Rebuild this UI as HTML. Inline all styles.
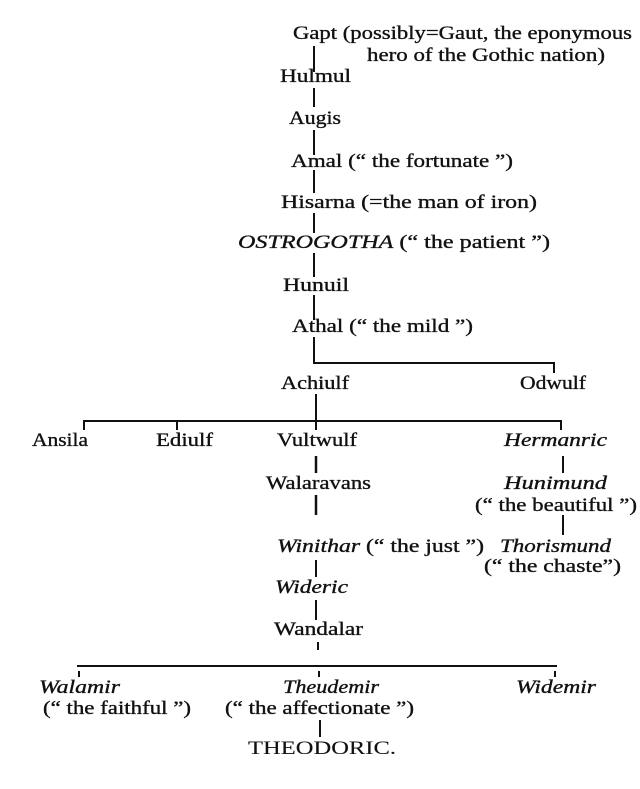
<!DOCTYPE html>
<html><head><meta charset="utf-8"><style>
html,body{margin:0;padding:0;background:#fff;}
svg{display:block}
text{font-family:"Liberation Serif",serif;font-size:19px;fill:#111;stroke:#111;stroke-width:0.35;}
.i{font-style:italic}
</style></head><body>
<svg width="640" height="789" viewBox="0 0 640 789" xmlns="http://www.w3.org/2000/svg">
<g stroke="#111" stroke-width="2" fill="none">
<line x1="314" y1="46" x2="314" y2="72"/>
<line x1="314" y1="88" x2="314" y2="107"/>
<line x1="314" y1="130" x2="314" y2="155"/>
<line x1="314" y1="170" x2="314" y2="193"/>
<line x1="314" y1="213" x2="314" y2="233"/>
<line x1="314" y1="253" x2="314" y2="277"/>
<line x1="314" y1="295" x2="314" y2="320"/>
<line x1="314" y1="337" x2="314" y2="363"/>
<line x1="313" y1="363" x2="555" y2="363"/>
<line x1="554" y1="363" x2="554" y2="373"/>
<line x1="316" y1="394" x2="316" y2="421"/>
<line x1="83" y1="421" x2="562" y2="421"/>
<line x1="84" y1="421" x2="84" y2="430"/>
<line x1="177" y1="421" x2="177" y2="430"/>
<line x1="316" y1="421" x2="316" y2="430"/>
<line x1="561" y1="421" x2="561" y2="430"/>
<line x1="316" y1="456" x2="316" y2="473" stroke-width="2.5"/>
<line x1="316" y1="495" x2="316" y2="515" stroke-width="2.5"/>
<line x1="563" y1="456" x2="563" y2="473"/>
<line x1="563" y1="515" x2="563" y2="535"/>
<line x1="316" y1="560" x2="316" y2="577"/>
<line x1="316" y1="600" x2="316" y2="620"/>
<line x1="318" y1="642" x2="318" y2="650"/>
<line x1="77" y1="666" x2="557" y2="666"/>
<line x1="79" y1="671" x2="79" y2="677"/>
<line x1="319" y1="671" x2="319" y2="677"/>
<line x1="555" y1="671" x2="555" y2="677"/>
<line x1="320" y1="720" x2="320" y2="737"/>
</g>
<text x="293" y="39" textLength="339" lengthAdjust="spacingAndGlyphs">Gapt (possibly=Gaut, the eponymous</text>
<text x="367" y="61" textLength="238" lengthAdjust="spacingAndGlyphs">hero of the Gothic nation)</text>
<text x="280" y="82" textLength="71" lengthAdjust="spacingAndGlyphs">Hulmul</text>
<text x="289" y="124" textLength="52" lengthAdjust="spacingAndGlyphs">Augis</text>
<text x="291" y="167" textLength="222" lengthAdjust="spacingAndGlyphs">Amal (“ the fortunate ”)</text>
<text x="281" y="208" textLength="256" lengthAdjust="spacingAndGlyphs">Hisarna (=the man of iron)</text>
<text x="238" y="248" textLength="312" lengthAdjust="spacingAndGlyphs"><tspan class="i">OSTROGOTHA</tspan> (“ the patient ”)</text>
<text x="283" y="291" textLength="66" lengthAdjust="spacingAndGlyphs">Hunuil</text>
<text x="292" y="332" textLength="181" lengthAdjust="spacingAndGlyphs">Athal (“ the mild ”)</text>
<text x="281" y="389" textLength="68" lengthAdjust="spacingAndGlyphs">Achiulf</text>
<text x="520" y="389" textLength="66" lengthAdjust="spacingAndGlyphs">Odwulf</text>
<text x="32" y="446" textLength="56" lengthAdjust="spacingAndGlyphs">Ansila</text>
<text x="156" y="446" textLength="57" lengthAdjust="spacingAndGlyphs">Ediulf</text>
<text x="277" y="446" textLength="80" lengthAdjust="spacingAndGlyphs">Vultwulf</text>
<text class="i" x="504" y="446" textLength="103" lengthAdjust="spacingAndGlyphs">Hermanric</text>
<text x="266" y="489" textLength="105" lengthAdjust="spacingAndGlyphs">Walaravans</text>
<text class="i" x="504" y="489" textLength="103" lengthAdjust="spacingAndGlyphs">Hunimund</text>
<text x="475" y="511" textLength="162" lengthAdjust="spacingAndGlyphs">(“ the beautiful ”)</text>
<text x="277" y="552" textLength="207" lengthAdjust="spacingAndGlyphs"><tspan class="i">Winithar</tspan> (“ the just ”)</text>
<text class="i" x="500" y="552" textLength="111" lengthAdjust="spacingAndGlyphs">Thorismund</text>
<text x="484" y="572" textLength="137" lengthAdjust="spacingAndGlyphs">(“ the chaste”)</text>
<text class="i" x="275" y="593" textLength="73" lengthAdjust="spacingAndGlyphs">Wideric</text>
<text x="274" y="635" textLength="89" lengthAdjust="spacingAndGlyphs">Wandalar</text>
<text class="i" x="39" y="693" textLength="81" lengthAdjust="spacingAndGlyphs">Walamir</text>
<text x="43" y="714" textLength="148" lengthAdjust="spacingAndGlyphs">(“ the faithful ”)</text>
<text class="i" x="283" y="693" textLength="96" lengthAdjust="spacingAndGlyphs">Theudemir</text>
<text x="225" y="714" textLength="189" lengthAdjust="spacingAndGlyphs">(“ the affectionate ”)</text>
<text class="i" x="516" y="693" textLength="80" lengthAdjust="spacingAndGlyphs">Widemir</text>
<text x="248" y="754" textLength="148" lengthAdjust="spacingAndGlyphs" style="stroke-width:0.1">THEODORIC.</text>
</svg>
</body></html>
